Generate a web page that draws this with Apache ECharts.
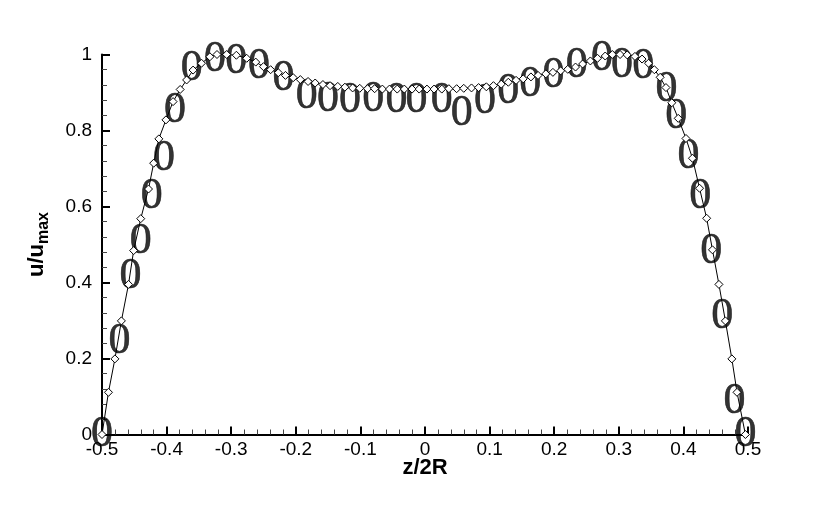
<!DOCTYPE html>
<html>
<head>
<meta charset="utf-8">
<script src="https://cdn.jsdelivr.net/npm/echarts@6/dist/echarts.min.js"></script>
<style>html,body{margin:0;padding:0;background:#fff}#c{width:830px;height:513px}</style>
</head>
<body>
<div id="c"></div>
<script>
// Simulation curve (line with diamond symbols)
var simZ = [-0.500,-0.490,-0.480,-0.470,-0.459,-0.451,-0.440,-0.428,-0.420,-0.412,-0.401,-0.390,-0.379,-0.369,-0.359,-0.346,-0.333,-0.322,-0.307,-0.292,-0.276,-0.262,-0.250,-0.239,-0.227,-0.216,-0.204,-0.193,-0.181,-0.170,-0.158,-0.147,-0.135,-0.124,-0.112,-0.101,-0.089,-0.078,-0.066,-0.055,-0.043,-0.032,-0.020,-0.009,0.003,0.014,0.026,0.037,0.049,0.060,0.072,0.083,0.095,0.106,0.118,0.129,0.141,0.152,0.164,0.175,0.187,0.198,0.210,0.221,0.233,0.244,0.256,0.267,0.279,0.290,0.302,0.313,0.325,0.336,0.346,0.355,0.364,0.373,0.382,0.392,0.404,0.414,0.425,0.436,0.445,0.455,0.465,0.475,0.483,0.496];
var simU = [0.000,0.111,0.199,0.299,0.395,0.484,0.568,0.646,0.714,0.778,0.828,0.876,0.908,0.933,0.959,0.977,0.994,1.000,1.000,0.998,0.990,0.980,0.968,0.960,0.952,0.945,0.939,0.934,0.929,0.925,0.921,0.918,0.916,0.914,0.912,0.911,0.910,0.910,0.909,0.909,0.909,0.909,0.909,0.909,0.909,0.909,0.909,0.910,0.910,0.911,0.912,0.913,0.915,0.918,0.922,0.927,0.932,0.936,0.941,0.945,0.949,0.953,0.957,0.961,0.967,0.975,0.983,0.990,0.996,1.000,1.000,0.999,0.995,0.988,0.977,0.960,0.940,0.913,0.873,0.832,0.779,0.727,0.648,0.569,0.486,0.395,0.299,0.199,0.111,0.000];
// Experimental data (drawn as "0" characters)
var expZ = [-0.500,-0.473,-0.456,-0.440,-0.423,-0.404,-0.387,-0.361,-0.325,-0.292,-0.257,-0.219,-0.183,-0.150,-0.116,-0.080,-0.044,-0.013,0.026,0.057,0.093,0.129,0.163,0.199,0.235,0.274,0.305,0.338,0.374,0.389,0.408,0.426,0.443,0.460,0.479,0.496];
var expU = [0.000,0.244,0.415,0.507,0.626,0.727,0.854,0.964,0.986,0.981,0.968,0.937,0.889,0.882,0.880,0.882,0.880,0.880,0.880,0.845,0.876,0.902,0.920,0.946,0.972,0.990,0.972,0.968,0.907,0.836,0.731,0.626,0.481,0.310,0.086,0.000];
var xTicks = {min:-0.5, max:0.5, step:0.1};
var yTicks = {min:0, max:1, step:0.2};
var xTitle = 'z/2R';

var simData = simZ.map(function(z,i){return [z, simU[i]];});
var expData = expZ.map(function(z,i){return [z, expU[i]];});

var chart = echarts.init(document.getElementById('c'), null, {renderer:'canvas'});
var axisCommon = {
  axisLine:{show:true, onZero:false, lineStyle:{color:'#000', width:2}},
  axisTick:{show:true, inside:true, length:8, lineStyle:{color:'#000', width:2}},
  minorTick:{show:true, splitNumber:5, length:5, lineStyle:{color:'#444', width:1}},
  splitLine:{show:false}
};
chart.setOption({
  animation:false,
  backgroundColor:'#fff',
  grid:{left:102, right:82, top:54.5, bottom:78.5, containLabel:false},
  xAxis: Object.assign({}, axisCommon, {
    type:'value', min:xTicks.min, max:xTicks.max, interval:xTicks.step,
    name:xTitle, nameLocation:'middle', nameGap:22, nameMoveOverlap:false,
    nameTextStyle:{color:'#000', fontSize:22, fontWeight:'bold', fontFamily:'Liberation Sans', verticalAlign:'top'},
    axisLabel:{color:'#000', fontSize:19, fontFamily:'Liberation Sans', margin:6}
  }),
  yAxis: Object.assign({}, axisCommon, {
    type:'value', min:yTicks.min, max:yTicks.max, interval:yTicks.step,
    name:'{b|u/u}{s|max}', nameLocation:'middle', nameGap:50, nameRotate:90, nameMoveOverlap:false,
    nameTextStyle:{color:'#000', fontFamily:'Liberation Sans',
      rich:{
        b:{fontSize:22, fontWeight:'bold', fontFamily:'Liberation Sans', color:'#000'},
        s:{fontSize:16, fontWeight:'bold', fontFamily:'Liberation Sans', color:'#000', padding:[14,0,0,0], verticalAlign:'bottom'}
      }},
    axisLabel:{color:'#000', fontSize:19, fontFamily:'Liberation Sans', margin:10}
  }),
  series:[
    {
      type:'line', data:simData, symbol:'diamond', symbolSize:8, showAllSymbol:true,
      lineStyle:{color:'#000', width:1},
      itemStyle:{color:'#fff', borderColor:'#000', borderWidth:1},
      z:3, clip:false
    },
    {
      type:'scatter', data:expData, symbol:'circle', symbolSize:1,
      itemStyle:{color:'rgba(0,0,0,0)'},
      label:{show:true, position:'inside', formatter:'0', color:'#000',
        fontFamily:'Liberation Serif', fontSize:44, textBorderColor:'#000', textBorderWidth:0.6},
      emphasis:{disabled:true},
      z:2, clip:false
    }
  ]
});
</script>
</body>
</html>
